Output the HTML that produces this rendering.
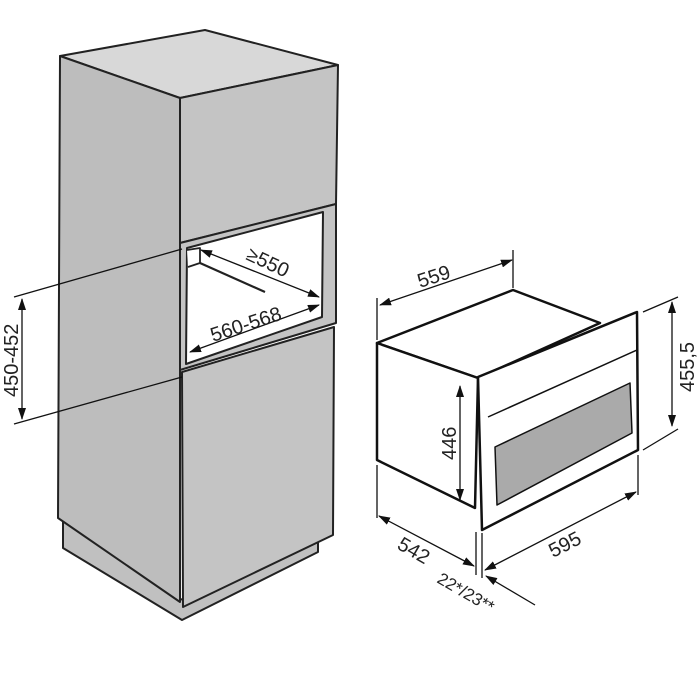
<!DOCTYPE html>
<html><head><meta charset="utf-8"><style>body{margin:0;background:#fff}svg{display:block}</style></head><body>
<svg width="700" height="700" viewBox="0 0 700 700" xmlns="http://www.w3.org/2000/svg" font-family="Liberation Sans, sans-serif" font-size="20" fill="#222">
<defs><marker id="a" markerWidth="12" markerHeight="8" refX="11" refY="4" orient="auto-start-reverse" markerUnits="userSpaceOnUse"><path d="M0,0 L12,4 L0,8 Z" fill="#111"/></marker></defs>
<g stroke="#222" stroke-width="2" stroke-linejoin="round">
<!-- plinth -->
<polygon points="63,520 63,548 182,620 318,552 318,540 180,600" fill="#c0c0c0"/>
<!-- top -->
<polygon points="60,56 205,30 338,65 180,98" fill="#d8d8d8"/>
<!-- left side -->
<polygon points="60,56 180,98 180,602 58,518" fill="#bdbdbd"/>
<!-- upper front -->
<polygon points="180,98 338,65 336,204 180,243" fill="#c4c4c4"/>
<!-- niche frame -->
<polygon points="180,243 336,204 336,323 180,370" fill="#c4c4c4"/>
<polygon points="187,248 323,212 322,317 186,364" fill="#fff"/>
<polyline points="187,250 200,248 200,263 188,267" fill="#fff" stroke-width="1.8"/>
<line x1="200" y1="263" x2="265" y2="292" stroke-width="2.2"/>
<!-- lower front -->
<polygon points="182,372 334,327 333,535 183,607" fill="#c4c4c4"/>
</g>
<g stroke="#111" stroke-width="1.3" fill="none">
<line x1="14" y1="297" x2="182" y2="249"/>
<line x1="14" y1="424" x2="182" y2="377"/>
<line x1="22" y1="299" x2="22" y2="419" marker-start="url(#a)" marker-end="url(#a)"/>
<line x1="201" y1="250" x2="319" y2="297" marker-start="url(#a)" marker-end="url(#a)"/>
<line x1="190" y1="352" x2="319" y2="305" marker-start="url(#a)" marker-end="url(#a)"/>
</g>
<text transform="translate(18,397) rotate(-90)">450-452</text>
<text transform="translate(245,259) rotate(25)">≥550</text>
<text transform="translate(213,342) rotate(-18)">560-568</text>

<!-- microwave -->
<g stroke="#111" stroke-width="2.5" stroke-linejoin="round">
<polygon points="377,343 513,290 600,323 478,378" fill="#fff"/>
<polygon points="377,343 478,378 475,508 377,460" fill="#fff"/>
<polygon points="478,377 637,312 638,450 482,530" fill="#fff"/>
<polygon points="495,447 630,383 632,433 497,505" fill="#aaaaaa" stroke-width="1.5"/>
<line x1="488" y1="417" x2="637" y2="350" stroke-width="1.5"/>
</g>
<g stroke="#111" stroke-width="1.3" fill="none">
<line x1="377" y1="298" x2="377" y2="340"/>
<line x1="513" y1="250" x2="513" y2="288"/>
<line x1="380" y1="305" x2="512" y2="260" marker-start="url(#a)" marker-end="url(#a)"/>
<line x1="643" y1="312" x2="678" y2="297"/>
<line x1="643" y1="450" x2="678" y2="429"/>
<line x1="672" y1="302" x2="672" y2="426" marker-start="url(#a)" marker-end="url(#a)"/>
<line x1="460" y1="386" x2="460" y2="500" marker-start="url(#a)" marker-end="url(#a)"/>
<line x1="377" y1="465" x2="377" y2="518"/>
<line x1="476" y1="532" x2="476" y2="575"/>
<line x1="482" y1="533" x2="482" y2="578"/>
<line x1="638" y1="455" x2="638" y2="495"/>
<line x1="379" y1="516" x2="474" y2="566" marker-start="url(#a)" marker-end="url(#a)"/>
<line x1="485" y1="570" x2="636" y2="492" marker-start="url(#a)" marker-end="url(#a)"/>
<line x1="535" y1="605" x2="486" y2="576" marker-end="url(#a)"/>
</g>
<text transform="translate(420,288) rotate(-18)">559</text>
<text transform="translate(694,392) rotate(-90)">455,5</text>
<text transform="translate(456,460) rotate(-90)">446</text>
<text transform="translate(396,548) rotate(30)">542</text>
<text transform="translate(553,558) rotate(-27)">595</text>
<text transform="translate(436,582) rotate(30)" font-size="17">22*/23**</text>
</svg>
</body></html>
